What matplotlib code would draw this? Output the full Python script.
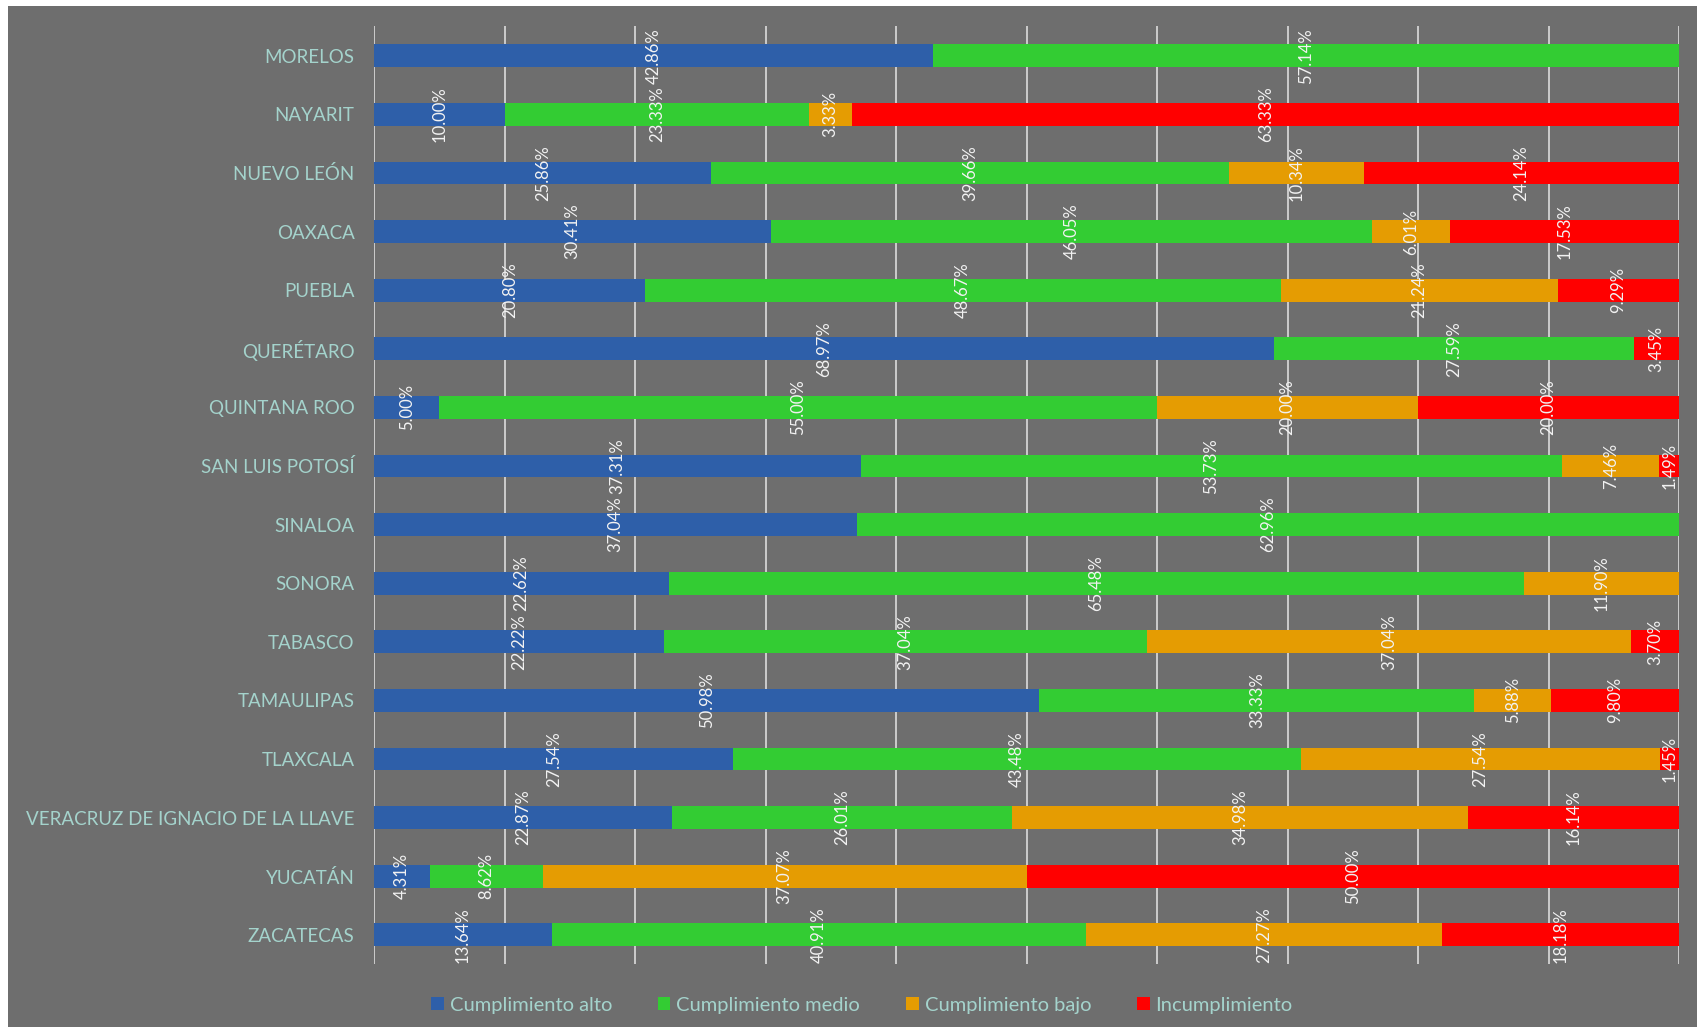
import matplotlib
matplotlib.use("Agg")
import matplotlib.pyplot as plt
import matplotlib.patches as mpatches
import numpy as np

# ---------------------------------------------------------------------------
# Data (percent per state)
# ---------------------------------------------------------------------------
estados = [
    "MORELOS", "NAYARIT", "NUEVO LEÓN", "OAXACA", "PUEBLA", "QUERÉTARO",
    "QUINTANA ROO", "SAN LUIS POTOSÍ", "SINALOA", "SONORA", "TABASCO",
    "TAMAULIPAS", "TLAXCALA", "VERACRUZ DE IGNACIO DE LA LLAVE", "YUCATÁN",
    "ZACATECAS",
]
alto = [42.86, 10.00, 25.86, 30.41, 20.80, 68.97, 5.00, 37.31, 37.04, 22.62,
        22.22, 50.98, 27.54, 22.87, 4.31, 13.64]
medio = [57.14, 23.33, 39.66, 46.05, 48.67, 27.59, 55.00, 53.73, 62.96, 65.48,
         37.04, 33.33, 43.48, 26.01, 8.62, 40.91]
bajo = [0, 3.33, 10.34, 6.01, 21.24, 0, 20.00, 7.46, 0, 11.90,
        37.04, 5.88, 27.54, 34.98, 37.07, 27.27]
incumplimiento = [0, 63.33, 24.14, 17.53, 9.29, 3.45, 20.00, 1.49, 0, 0,
                  3.70, 9.80, 1.45, 16.14, 50.00, 18.18]

series_names = ["Cumplimiento alto", "Cumplimiento medio",
                "Cumplimiento bajo", "Incumplimiento"]

COLORS = {
    "alto": "#2E5FA9",
    "medio": "#33CC33",
    "bajo": "#E59C02",
    "incumplimiento": "#FF0000",
    "bg": "#6E6E6E",
    "cat": "#A4D3CC",
    "label": "#F2F2F2",
    "grid": "#E6E6E6",
}

FONT = ["Lato", "DejaVu Sans"]


def main():
    fig = plt.figure(figsize=(16.97, 10.27), dpi=100)
    fig.patch.set_facecolor("white")
    # grey chart area with thin white margin on top/left
    fig.patches.append(mpatches.Rectangle(
        (8 / 1697, 0), 1, 1 - 6 / 1027, transform=fig.transFigure,
        facecolor=COLORS["bg"], edgecolor="none", zorder=-10))

    ax = fig.add_axes([0.2204, 0.0613, 0.769, 0.9129])
    ax.set_facecolor(COLORS["bg"])

    y = np.arange(len(estados))
    data = [alto, medio, bajo, incumplimiento]
    cols = [COLORS["alto"], COLORS["medio"], COLORS["bajo"],
            COLORS["incumplimiento"]]
    left = np.zeros(len(estados))
    for vals, col, name in zip(data, cols, series_names):
        vals = np.array(vals, dtype=float)
        ax.barh(y, vals, left=left, height=0.39, color=col, label=name,
                zorder=3, edgecolor="none")
        for yi, (l, v) in enumerate(zip(left, vals)):
            if v > 0:
                ax.text(l + v / 2, yi, f"{v:.2f}%", rotation=90,
                        ha="center", va="center", fontsize=12,
                        color=COLORS["label"], family=FONT, zorder=5)
        left += vals

    ax.set_xlim(0, 100)
    ax.set_ylim(len(estados) - 0.5, -0.5)
    ax.set_xticks(np.arange(0, 101, 10))
    ax.xaxis.grid(True, color=COLORS["grid"], linewidth=1.1, zorder=1)
    ax.set_axisbelow(True)
    ax.tick_params(axis="x", length=0, labelbottom=False)
    ax.tick_params(axis="y", length=0, pad=14)
    ax.set_yticks(y)
    ax.set_yticklabels(estados, fontsize=13.5, color=COLORS["cat"],
                       family=FONT)
    for s in ax.spines.values():
        s.set_visible(False)

    leg = fig.legend(loc="center", bbox_to_anchor=(0.508, 0.0214), ncol=4,
                     frameon=False, handlelength=0.6, handleheight=0.6,
                     handletextpad=0.3, columnspacing=2.3,
                     prop={"family": FONT, "size": 14.5})
    for t in leg.get_texts():
        t.set_color(COLORS["cat"])

    fig.savefig("out.png", dpi=100, facecolor=fig.get_facecolor())
    plt.close(fig)


if __name__ == "__main__":
    main()
